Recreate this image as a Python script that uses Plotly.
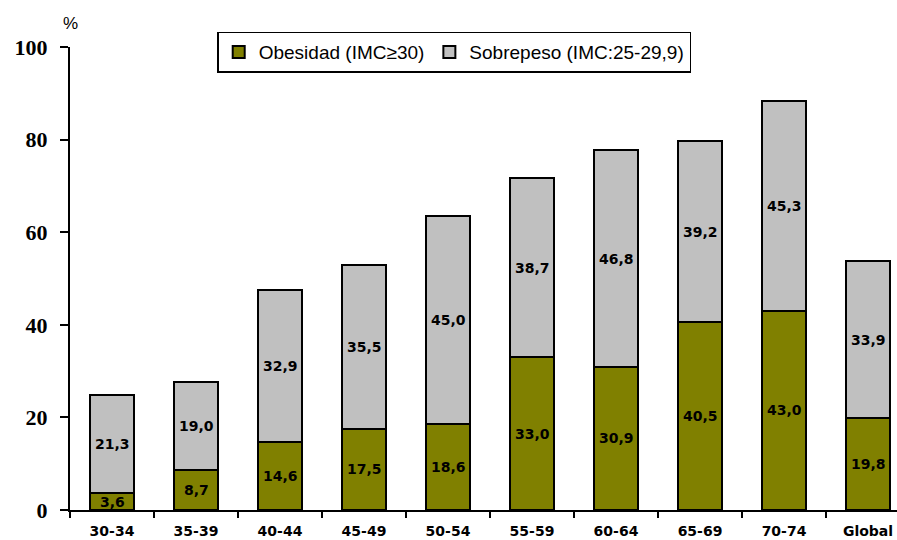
import plotly.graph_objects as go

# Age groups and prevalence (%) by category
grupos = ["30-34", "35-39", "40-44", "45-49", "50-54", "55-59", "60-64", "65-69", "70-74", "Global"]
obesidad = [3.6, 8.7, 14.6, 17.5, 18.6, 33.0, 30.9, 40.5, 43.0, 19.8]
sobrepeso = [21.3, 19.0, 32.9, 35.5, 45.0, 38.7, 46.8, 39.2, 45.3, 33.9]
y_ticks = [0, 20, 40, 60, 80, 100]

OLIVE = "#808000"
GRIS = "#C0C0C0"
LABEL_FONT = dict(family="DejaVu Sans", size=14, color="black", weight="bold")

fig = go.Figure()
fig.add_trace(go.Bar(
    x=grupos, y=obesidad, name="Obesidad (IMC≥30)",
    marker=dict(color=OLIVE, line=dict(color="black", width=2)),
    width=0.53,
))
fig.add_trace(go.Bar(
    x=grupos, y=sobrepeso, name="Sobrepeso (IMC:25-29,9)",
    marker=dict(color=GRIS, line=dict(color="black", width=2)),
    width=0.53,
))

def fmt(v):
    return f"{v:.1f}".replace(".", ",")

# value labels centred in each stacked segment
for g, o, s in zip(grupos, obesidad, sobrepeso):
    fig.add_annotation(x=g, y=o / 2, text=fmt(o), showarrow=False, font=LABEL_FONT)
    fig.add_annotation(x=g, y=o + s / 2, text=fmt(s), showarrow=False, font=LABEL_FONT)

fig.add_annotation(x=0, xref="paper", xanchor="center", y=1.025, yref="paper", yanchor="bottom",
                   text="%", showarrow=False,
                   font=dict(family="Arial, Liberation Sans", size=17, color="black"))

fig.update_layout(
    barmode="stack",
    width=897, height=540,
    margin=dict(l=70, r=0, t=47, b=30),
    plot_bgcolor="white", paper_bgcolor="white",
    showlegend=True,
    legend=dict(
        orientation="h", traceorder="normal",
        x=0.178, xanchor="left", y=1.033, yanchor="top",
        bordercolor="black", borderwidth=1.5, bgcolor="white",
        font=dict(family="Arial, Liberation Sans", size=19, color="black"),
        itemwidth=30,
    ),
    xaxis=dict(
        range=[-0.5, 9.345],
        showline=True, linecolor="black", linewidth=2,
        ticks="outside", tickson="boundaries", ticklen=6, tickcolor="black", tickwidth=1.5,
        ticklabelstandoff=7,
        tickfont=LABEL_FONT,
        showgrid=False,
    ),
    yaxis=dict(
        range=[0, 100], tickvals=y_ticks,
        showline=True, linecolor="black", linewidth=2,
        ticks="outside", ticklen=8, tickcolor="black", tickwidth=1.5,
        ticklabelstandoff=8,
        tickfont=dict(family="Times New Roman, Liberation Serif", size=22, color="black", weight="bold"),
        showgrid=False, zeroline=False,
    ),
)

fig.write_html("out.html")
